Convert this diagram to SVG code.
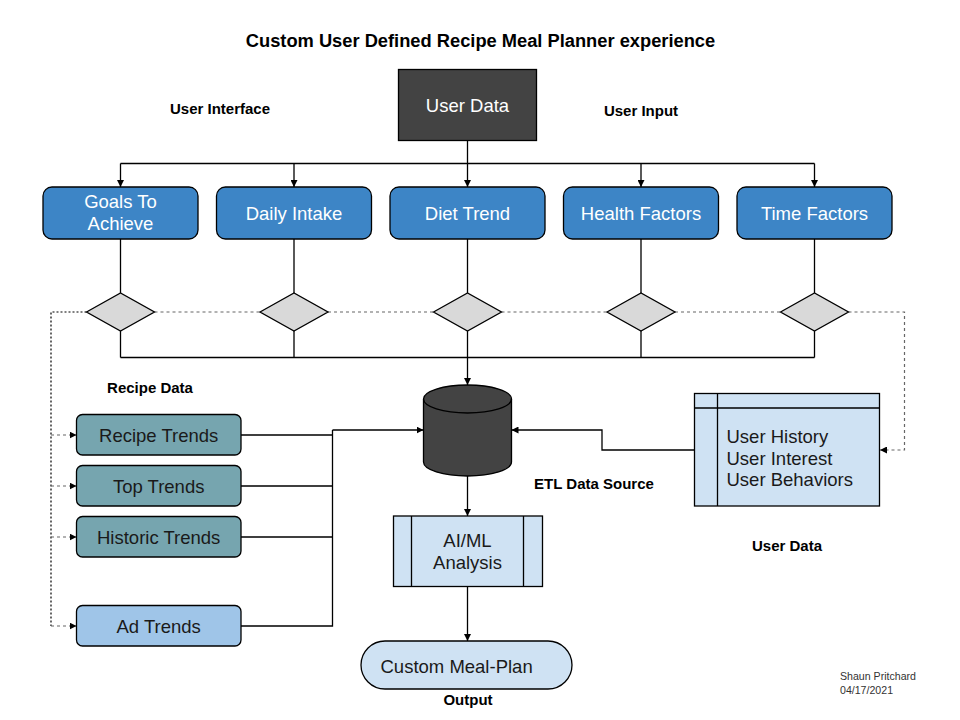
<svg xmlns="http://www.w3.org/2000/svg" width="960" height="720" viewBox="0 0 960 720">
<defs>
<style>
text{font-family:"Liberation Sans",Arial,sans-serif}
.lbl{font-size:15px;font-weight:bold;fill:#000;text-anchor:middle}
.wt{font-size:18.5px;fill:#fff;text-anchor:middle}
.dk{font-size:18.5px;fill:#1a1a1a;text-anchor:middle}
.ln{fill:none;stroke:#000;stroke-width:1.3}
.dg{fill:none;stroke:#666;stroke-width:1.2;stroke-dasharray:3,3}
.db{fill:none;stroke:#000;stroke-width:1.2;stroke-dasharray:2,2}
.blue{fill:#3d85c6;stroke:#000;stroke-width:1.3}
.teal{fill:#76a5af;stroke:#000;stroke-width:1.3}
.pale{fill:#cfe2f3;stroke:#000;stroke-width:1.3}
.dia{fill:#d9d9d9;stroke:#000;stroke-width:1.3}
</style>
<marker id="ah" markerUnits="userSpaceOnUse" markerWidth="7" markerHeight="7" refX="7" refY="3.5" orient="auto">
<path d="M0,0 L7,3.5 L0,7 z" fill="#000"/>
</marker>
</defs>
<rect width="960" height="720" fill="#fff"/>
<text x="480.5" y="47" style="font-size:18.3px;font-weight:bold;text-anchor:middle">Custom User Defined Recipe Meal Planner experience</text>
<text class="lbl" x="220" y="114">User Interface</text>
<text class="lbl" x="641" y="116">User Input</text>
<text class="lbl" x="150" y="393">Recipe Data</text>
<text class="lbl" x="594" y="489">ETL Data Source</text>
<text class="lbl" x="787" y="551">User Data</text>
<text class="lbl" x="468" y="705">Output</text>
<text x="840" y="680" style="font-size:10.6px;fill:#333">Shaun Pritchard</text>
<text x="840" y="694" style="font-size:10.6px;fill:#333">04/17/2021</text>

<g id="connectors">
<path class="ln" d="M467.5,140 V163.5 M120.5,163.5 H814.5"/>
<path class="ln" d="M120.5,163.5 V187" marker-end="url(#ah)"/>
<path class="ln" d="M294,163.5 V187" marker-end="url(#ah)"/>
<path class="ln" d="M467.5,163.5 V187" marker-end="url(#ah)"/>
<path class="ln" d="M641,163.5 V187" marker-end="url(#ah)"/>
<path class="ln" d="M814.5,163.5 V187" marker-end="url(#ah)"/>
<path class="ln" d="M120.5,239 V293 M294,239 V293 M467.5,239 V293 M641,239 V293 M814.5,239 V293"/>
<path class="ln" d="M120.5,331 V357.5 M294,331 V357.5 M641,331 V357.5 M814.5,331 V357.5 M120.5,357.5 H814.5"/>
<path class="ln" d="M467.5,331 V385" marker-end="url(#ah)"/>
<path class="dg" d="M154.5,312 H260 M328,312 H433.5 M501.5,312 H607 M675,312 H780.5"/>
<path class="dg" d="M848.5,312 H904.5 V450 H880" marker-end="url(#ah)"/>
<path class="db" d="M86.5,312 H51 V626"/>
<path class="dg" d="M51,435 H76.5" marker-end="url(#ah)"/>
<path class="dg" d="M51,486 H76.5" marker-end="url(#ah)"/>
<path class="dg" d="M51,537 H76.5" marker-end="url(#ah)"/>
<path class="dg" d="M51,626 H76.5" marker-end="url(#ah)"/>
<path class="ln" d="M241,435 H332.5 M241,486 H332.5 M241,537 H332.5 M241,626 H332.5 V430"/>
<path class="ln" d="M332.5,430 H423.5" marker-end="url(#ah)"/>
<path class="ln" d="M694.5,450 H602 V430 H511.5" marker-end="url(#ah)"/>
<path class="ln" d="M467.5,476 V516" marker-end="url(#ah)"/>
<path class="ln" d="M467.5,587 V641" marker-end="url(#ah)"/>
</g>

<g id="user-data">
<rect x="398.5" y="69.5" width="138" height="71" fill="#434343" stroke="#000" stroke-width="1.3"/>
<text class="wt" x="467.5" y="112">User Data</text>
</g>
<g id="goals">
<rect class="blue" x="43" y="187" width="155" height="52" rx="9"/>
<text class="wt" x="120.5" y="208">Goals To</text>
<text class="wt" x="120.5" y="230">Achieve</text>
</g>
<g id="daily-intake">
<rect class="blue" x="216.5" y="187" width="155" height="52" rx="9"/>
<text class="wt" x="294" y="220">Daily Intake</text>
</g>
<g id="diet-trend">
<rect class="blue" x="390" y="187" width="155" height="52" rx="9"/>
<text class="wt" x="467.5" y="220">Diet Trend</text>
</g>
<g id="health-factors">
<rect class="blue" x="563.5" y="187" width="155" height="52" rx="9"/>
<text class="wt" x="641" y="220">Health Factors</text>
</g>
<g id="time-factors">
<rect class="blue" x="737" y="187" width="155" height="52" rx="9"/>
<text class="wt" x="814.5" y="220">Time Factors</text>
</g>
<g id="diamond-1"><path class="dia" d="M86.5,312 L120.5,293 L154.5,312 L120.5,331 Z"/></g>
<g id="diamond-2"><path class="dia" d="M260,312 L294,293 L328,312 L294,331 Z"/></g>
<g id="diamond-3"><path class="dia" d="M433.5,312 L467.5,293 L501.5,312 L467.5,331 Z"/></g>
<g id="diamond-4"><path class="dia" d="M607,312 L641,293 L675,312 L641,331 Z"/></g>
<g id="diamond-5"><path class="dia" d="M780.5,312 L814.5,293 L848.5,312 L814.5,331 Z"/></g>

<g id="recipe-trends">
<rect class="teal" x="76.5" y="414.5" width="164.5" height="40.5" rx="6"/>
<text class="dk" x="158.7" y="442">Recipe Trends</text>
</g>
<g id="top-trends">
<rect class="teal" x="76.5" y="465.5" width="164.5" height="40.5" rx="6"/>
<text class="dk" x="158.7" y="493">Top Trends</text>
</g>
<g id="historic-trends">
<rect class="teal" x="76.5" y="516.5" width="164.5" height="40.5" rx="6"/>
<text class="dk" x="158.7" y="544">Historic Trends</text>
</g>
<g id="ad-trends">
<rect x="76.5" y="605.5" width="164.5" height="40.5" rx="6" fill="#9fc5e8" stroke="#000" stroke-width="1.3"/>
<text class="dk" x="158.7" y="633">Ad Trends</text>
</g>

<g id="etl-data-source">
<path d="M423.5,399 A44,14 0 0 1 511.5,399 V462 A44,14 0 0 1 423.5,462 Z" fill="#434343" stroke="#000" stroke-width="1.3"/>
<path d="M423.5,399 A44,14 0 0 0 511.5,399" fill="none" stroke="#000" stroke-width="1.3"/>
</g>

<g id="user-data-store">
<rect class="pale" x="694.5" y="393.5" width="185" height="112.5"/>
<path class="ln" d="M717.5,393.5 V506 M694.5,408 H879.5"/>
<text x="726.5" y="443" style="font-size:18.5px;fill:#1a1a1a">User History</text>
<text x="726.5" y="464.5" style="font-size:18.5px;fill:#1a1a1a">User Interest</text>
<text x="726.5" y="486" style="font-size:18.5px;fill:#1a1a1a">User Behaviors</text>
</g>

<g id="ai-ml">
<rect class="pale" x="393.5" y="516" width="149" height="70.5"/>
<path class="ln" d="M411.5,516 V586.5 M523.5,516 V586.5"/>
<text class="dk" x="467.5" y="547">AI/ML</text>
<text class="dk" x="467.5" y="568.5">Analysis</text>
</g>

<g id="custom-meal-plan">
<rect class="pale" x="361" y="641" width="211" height="48" rx="24"/>
<text x="380.5" y="673" style="font-size:18.5px;fill:#1a1a1a">Custom Meal-Plan</text>
</g>
</svg>
